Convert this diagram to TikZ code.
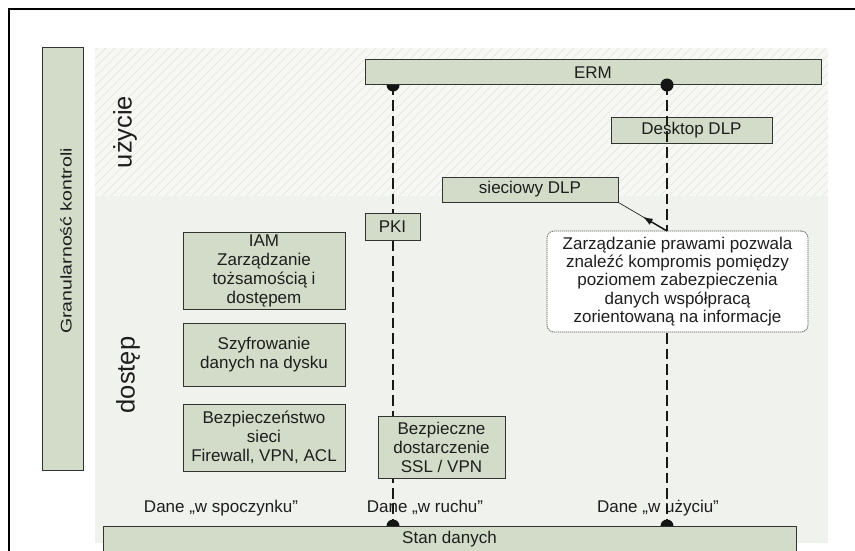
\documentclass[tikz,border=0pt]{standalone}
\usepackage{fontspec}
\setmainfont{Liberation Sans}
\usetikzlibrary{arrows.meta,calc}
\definecolor{boxfill}{HTML}{D3DCC8}
\definecolor{boxline}{HTML}{333333}
\definecolor{usebg}{HTML}{F7F7F4}
\definecolor{hatchc}{HTML}{E2E2DD}
\definecolor{accbg}{HTML}{F0F2ED}
\definecolor{txt}{HTML}{1E1E1E}
\begin{document}
\begin{tikzpicture}[x=1pt,y=-1pt,
  box/.style={draw=boxline, fill=boxfill, line width=1pt, inner sep=0pt, align=center, text=txt, font=\fontsize{17}{19}\selectfont},
  lbl/.style={text=txt, font=\fontsize{17}{19}\selectfont, inner sep=0pt},
  bigv/.style={rotate=90, text=txt, font=\fontsize{25.5}{28}\selectfont, inner sep=0pt},
  vline/.style={line width=2pt, dash pattern=on 10.5pt off 5pt, draw=black!90},
  dotc/.style={fill=black!92}]
\useasboundingbox (0,0) rectangle (855,551);
\clip (0,0) rectangle (855,551);
% backgrounds
\fill[usebg] (95,48) rectangle (828,196);
\begin{scope}
  \clip (95,48) rectangle (828,196);
  \foreach \i in {-60,-51,...,830} \draw[hatchc, line width=0.6pt] (\i,196) -- ++(148,-148);
\end{scope}
\fill[accbg] (95,196) rectangle (828,543);
% frame
\draw[line width=2.8pt] (9,9) rectangle (890,600);
% left bar
\node[box, minimum width=41pt, minimum height=422pt] (gran) at (62.5,259) {};
\node[rotate=90, text=txt, font=\fontsize{15.5}{17}\selectfont, inner sep=0pt] (granT) at (66,241) {\scalebox{1.26}[1]{Granularność kontroli}};
\node[bigv] (uz) at (125,132) {użycie};
\node[bigv] (dos) at (128,375) {dostęp};
% boxes under the lines
\node[box, minimum width=456pt, minimum height=25pt] (ERM) at (593,72.5) {ERM};
\node[box, minimum width=161pt, minimum height=25pt] (ddlp) at (691.5,130.5) {Desktop DLP};
\node[box, minimum width=176pt, minimum height=25pt] (sdlp) at (530,189.5) {sieciowy DLP};
\node[box, minimum width=693pt, minimum height=26pt] (stan) at (449.5,539) {Stan danych};
% labels
\node[lbl, anchor=base] (d1) at (221,512) {Dane „w spoczynku”};
\node[lbl, anchor=base] (d2) at (425,512) {Dane „w ruchu”};
\node[lbl, anchor=base] (d3) at (658,512) {Dane „w użyciu”};
% dashed lines
\coordinate (tL) at (393,85);
\coordinate (tR) at (667,85);
\coordinate (bL) at (393,526);
\coordinate (bR) at (667,526);
\draw[vline] (tL) -- (bL);
\draw[vline] (tR) -- (bR);
% dots
\fill[dotc] ($(tL)+(-6.5,0)$) arc[start angle=180, end angle=0, radius=6.5] -- cycle;
\fill[dotc] (tR) circle[radius=6.5];
\fill[dotc] ($(bL)+(-6.5,0)$) arc[start angle=180, end angle=360, radius=6.5] -- cycle;
\fill[dotc] ($(bR)+(-6.5,0)$) arc[start angle=180, end angle=360, radius=6.5] -- cycle;
% boxes above the lines
\node[box, minimum width=55pt, minimum height=27pt] (pki) at (392.5,226.5) {PKI};
\node[box, minimum width=127pt, minimum height=62pt] (bdos) at (441.5,447) {Bezpieczne\\dostarczenie\\SSL / VPN};
\node[box, minimum width=162pt, minimum height=77pt] (iam) at (264,270.5) {IAM\\Zarządzanie\\tożsamością i\\dostępem};
\node[box, minimum width=162pt, minimum height=63pt] (szyf) at (264,354.5) {Szyfrowanie\\danych na dysku};
\node[box, minimum width=162pt, minimum height=67pt] (bsie) at (264,437.5) {Bezpieczeństwo\\sieci\\Firewall, VPN, ACL};
\node[draw=black!65, dash pattern=on 1.2pt off 0.8pt, line width=0.8pt, rounded corners=7pt, fill=white,
      minimum width=261pt, minimum height=101pt, inner sep=0pt, align=center, text=txt,
      font=\fontsize{17}{18.3}\selectfont] (note) at (677.5,281.5)
  {Zarządzanie prawami pozwala\\znaleźć kompromis pomiędzy\\poziomem zabezpieczenia\\danych współpracą\\zorientowaną na informacje};
% arrow
\coordinate (nT) at (667,231);
\draw[line width=0.7pt, draw=black!85] (sdlp.south east) -- (nT);
\draw[line width=1.4pt, draw=black!90, -{Latex[length=10pt,width=7pt]}] (nT) -- ($(sdlp.south east)!0.5!(nT)$);
\end{tikzpicture}
\end{document}
